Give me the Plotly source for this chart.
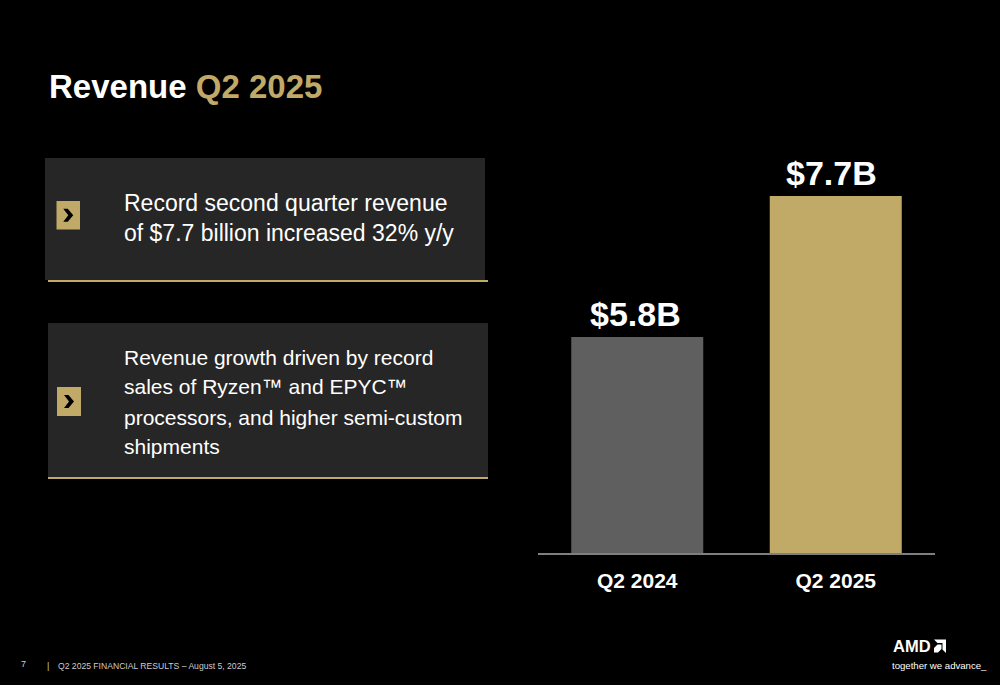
import plotly.graph_objects as go

# Input data
categories = ['Q2 2024', 'Q2 2025']
revenue = [5.8, 7.7]
value_labels = ['$5.8B', '$7.7B']
bar_colors = ['#5f5f5f', '#c1a968']

box_lines = [
    ['Record second quarter revenue', 'of $7.7 billion increased 32% y/y'],
    ['Revenue growth driven by record', 'sales of Ryzen™ and EPYC™',
     'processors, and higher semi-custom', 'shipments'],
]

W = 1000
H = 685
GOLD = '#c1a968'
FONT = 'Liberation Sans'


def px(x):
    return x / W


def py(y):
    return 1 - y / H


def poly(pts):
    return 'M ' + ' L '.join(f'{px(a):.5f},{py(b):.5f}' for a, b in pts) + ' Z'


fig = go.Figure()
fig.add_trace(go.Bar(
    x=categories, y=revenue, width=0.665,
    marker=dict(color=bar_colors, line=dict(width=0)),
))

shapes = []
annotations = []


def box(x0, y0, x1, y1):
    shapes.append(dict(type='rect', xref='paper', yref='paper', x0=px(x0), x1=px(x1),
                       y0=py(y0), y1=py(y1), fillcolor='#262626', line=dict(width=0), layer='below'))


def rule(x0, x1, y):
    shapes.append(dict(type='line', xref='paper', yref='paper', x0=px(x0), x1=px(x1),
                       y0=py(y), y1=py(y), line=dict(color=GOLD, width=2)))


def chevron(x0, y0, x1, y1):
    shapes.append(dict(type='rect', xref='paper', yref='paper', x0=px(x0), x1=px(x1),
                       y0=py(y0), y1=py(y1), fillcolor=GOLD, line=dict(width=0)))
    cx = (x0 + x1) / 2
    cy = (y0 + y1) / 2
    pts = [(cx - 5, cy - 6.5), (cx - 0.5, cy - 6.5), (cx + 5, cy), (cx - 0.5, cy + 6.5), (cx - 5, cy + 6.5), (cx, cy)]
    shapes.append(dict(type='path', xref='paper', yref='paper', path=poly(pts),
                       fillcolor='black', line=dict(width=0)))


def label(x, y, text, size, color='white', weight=400, anchor='left'):
    annotations.append(dict(xref='paper', yref='paper', x=px(x), y=py(y), text=text, showarrow=False,
                            xanchor=anchor, yanchor='middle',
                            font=dict(family=FONT, size=size, color=color, weight=weight)))


box(45, 158, 485, 280)
rule(48, 488, 281)
box(48, 323, 488, 477)
rule(48, 488, 478)
chevron(56.5, 201, 80, 229.5)
chevron(57, 387, 81, 416)

for i, line in enumerate(box_lines[0]):
    label(122, 203 + i * 30, line, 23)
for i, line in enumerate(box_lines[1]):
    label(122, 357 + i * 30, line, 21)

label(47, 86, '<b>Revenue <span style="color:%s">Q2 2025</span></b>' % GOLD, 33)

# value labels sit a little left of the bar centres in the source
for cat, val, txt, shift in zip(categories, revenue, value_labels, [-2, -4]):
    annotations.append(dict(x=cat, y=val, xref='x', yref='y', text=txt, showarrow=False,
                            yanchor='bottom', xshift=shift, yshift=2,
                            font=dict(family=FONT, size=34, color='white', weight=700)))

# footer
label(19, 664, '7', 9, color='#cccccc')
label(45, 666, '|', 9, color='#cccccc')
label(56, 666, 'Q2 2025 FINANCIAL RESULTS – August 5, 2025', 8.6, color='#cccccc')

# logo
label(891, 646, 'AMD', 16.5, weight=700)
label(890, 665, 'together we advance_', 9.6)
shapes.append(dict(type='path', xref='paper', yref='paper', fillcolor='white', line=dict(width=0),
                   path=poly([(934, 639.5), (946, 639.5), (946, 653), (942.5, 649.5), (942.5, 643), (937.5, 643)])))
shapes.append(dict(type='path', xref='paper', yref='paper', fillcolor='white', line=dict(width=0),
                   path=poly([(937.5, 644.5), (941.5, 644.5), (941.5, 649), (938, 652.5), (934, 652.5), (934, 648)])))

fig.update_layout(
    width=W, height=H,
    margin=dict(l=0, r=0, t=0, b=0),
    paper_bgcolor='black', plot_bgcolor='black',
    showlegend=False,
    shapes=shapes, annotations=annotations,
    xaxis=dict(domain=[px(538), px(935)], range=[-0.5, 1.5], showgrid=False, showline=True,
               linecolor='#7f7f7f', linewidth=2, ticks='outside', ticklen=8, tickcolor='rgba(0,0,0,0)',
               zeroline=False,
               tickfont=dict(family=FONT, size=21, color='white', weight=700)),
    # the source chart's axis doesn't start at zero
    yaxis=dict(domain=[py(553), py(150)], range=[2.89, 8.32], visible=False),
)

fig.write_html('out.html', config=dict(displayModeBar=False),
               post_script="document.body.style.margin='0';")
